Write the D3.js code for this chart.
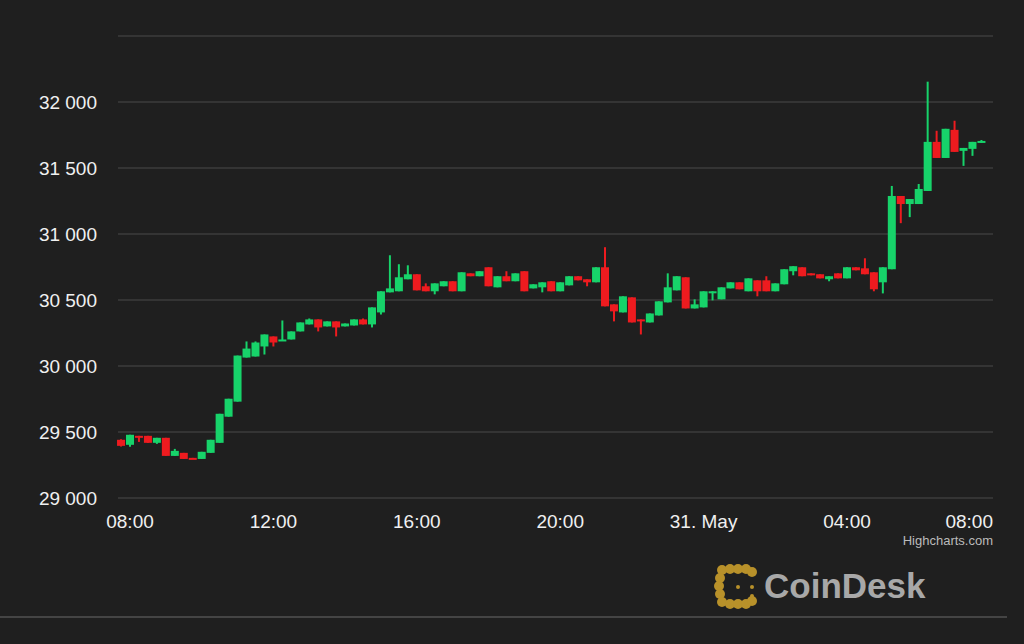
<!DOCTYPE html>
<html>
<head>
<meta charset="utf-8">
<script src="https://cdn.jsdelivr.net/npm/d3@7"></script>
<style>
  body { margin: 0; background: #1f1f1f; }
  svg { display: block; font-family: "Helvetica Neue", "Liberation Sans", Arial, sans-serif; }
</style>
</head>
<body>
<svg id="chart" width="1024" height="644"></svg>
<script>
// 15-minute BTC candles, first one at 30 May 07:45
const startTime = new Date(2021, 4, 30, 7, 45);
const opens = [29441,29403,29471,29471,29418,29456,29319,29342,29304,29296,29342,29418,29616,29730,30064,30072,30148,30224,30193,30201,30262,30315,30353,30300,30338,30300,30307,30353,30315,30406,30558,30566,30657,30695,30604,30566,30604,30642,30566,30702,30680,30748,30596,30680,30642,30718,30588,30596,30642,30566,30611,30680,30657,30634,30748,30467,30406,30520,30353,30330,30383,30482,30573,30672,30436,30444,30558,30505,30588,30634,30566,30649,30649,30566,30619,30718,30748,30702,30695,30657,30702,30664,30748,30740,30710,30634,30733,31288,31227,31227,31326,31698,31576,31789,31630,31645,31690];
const highs = [29445,29480,29471,29471,29456,29456,29372,29342,29304,29350,29441,29638,29752,30079,30186,30186,30239,30224,30345,30262,30330,30360,30353,30338,30338,30322,30353,30360,30444,30566,30839,30771,30763,30695,30626,30626,30642,30642,30710,30702,30718,30748,30680,30718,30702,30718,30619,30634,30642,30634,30680,30680,30657,30748,30900,30467,30528,30520,30353,30398,30490,30702,30680,30672,30505,30566,30566,30596,30634,30634,30664,30649,30680,30626,30733,30756,30748,30702,30695,30680,30702,30748,30748,30816,30710,30748,31364,31288,31265,31379,32154,31782,31797,31858,31652,31698,31712];
const lows = [29390,29388,29425,29418,29410,29319,29319,29296,29296,29296,29342,29418,29616,29730,30064,30072,30087,30148,30193,30201,30262,30315,30262,30300,30224,30300,30307,30315,30292,30390,30558,30566,30657,30573,30566,30543,30604,30566,30566,30680,30680,30604,30596,30642,30642,30566,30588,30558,30566,30566,30611,30649,30604,30634,30452,30338,30406,30330,30239,30330,30383,30482,30573,30436,30436,30444,30497,30505,30588,30581,30566,30528,30566,30566,30619,30687,30680,30687,30664,30642,30664,30664,30725,30695,30566,30550,30733,31082,31128,31227,31326,31576,31576,31622,31516,31592,31690];
const closes = [29395,29479,29456,29418,29456,29319,29357,29296,29296,29350,29441,29638,29752,30079,30132,30178,30239,30178,30201,30262,30330,30353,30292,30338,30292,30322,30353,30315,30444,30566,30588,30672,30695,30573,30566,30626,30642,30566,30710,30680,30718,30604,30680,30642,30702,30566,30619,30634,30566,30634,30680,30649,30634,30748,30452,30414,30528,30330,30345,30398,30490,30596,30680,30436,30467,30566,30566,30596,30634,30581,30664,30566,30566,30626,30733,30756,30680,30687,30664,30680,30664,30748,30725,30695,30581,30748,31288,31227,31265,31341,31698,31576,31797,31622,31652,31698,31705];
const yTicks = [29000, 29500, 30000, 30500, 31000, 31500, 32000, 32500];

const candles = opens.map((o, i) => ({
  t: d3.timeMinute.offset(startTime, 15 * i),
  o, h: highs[i], l: lows[i], c: closes[i]
}));

const svg = d3.select("#chart");
const left = 118, right = 993;

const x = d3.scaleTime()
  .domain([new Date(2021, 4, 30, 8), new Date(2021, 4, 31, 4)])
  .range([130, 847]);
const y = d3.scaleLinear().domain([29000, 32500]).range([498, 36]);

// grid + y labels
svg.append("g").selectAll("line").data(yTicks).join("line")
  .attr("x1", left).attr("x2", right)
  .attr("y1", d => y(d)).attr("y2", d => y(d))
  .attr("stroke", "#4a4a4a").attr("stroke-width", 1.2);

const fmt = d => d3.format(",")(d).replace(",", " ");
svg.append("g").selectAll("text").data(yTicks.slice(0, -1)).join("text")
  .attr("x", 97).attr("y", d => y(d) + 7)
  .attr("text-anchor", "end").attr("fill", "#f0f0f0").attr("font-size", 19)
  .text(fmt);

// x axis labels (last one kept inside the plot, like Highcharts does)
const xTicks = d3.timeHour.every(4).range(new Date(2021, 4, 30, 8), new Date(2021, 4, 31, 8, 1));
svg.append("g").selectAll("text").data(xTicks).join("text")
  .attr("x", (d, i) => i === xTicks.length - 1 ? right : x(d)).attr("y", 528)
  .attr("text-anchor", (d, i) => i === xTicks.length - 1 ? "end" : "middle")
  .attr("fill", "#f0f0f0").attr("font-size", 19)
  .text(d => d.getHours() === 0 ? "31. May" : d3.timeFormat("%H:%M")(d));

// candles
const bw = 8;
const green = "#17d36a", red = "#ee1b1f";
const g = svg.append("g").selectAll("g").data(candles).join("g")
  .attr("fill", d => d.c >= d.o ? green : red)
  .attr("stroke", d => d.c >= d.o ? green : red);
g.append("line")
  .attr("x1", d => x(d.t)).attr("x2", d => x(d.t))
  .attr("y1", d => y(d.h)).attr("y2", d => y(d.l))
  .attr("stroke-width", 2);
g.append("rect")
  .attr("x", d => x(d.t) - bw / 2).attr("width", bw)
  .attr("y", d => y(Math.max(d.o, d.c)))
  .attr("height", d => Math.max(2, Math.abs(y(d.o) - y(d.c))))
  .attr("stroke", "none");

// credits
svg.append("text").attr("x", 993).attr("y", 545).attr("text-anchor", "end")
  .attr("fill", "#bbb").attr("font-size", 13).text("Highcharts.com");

// CoinDesk watermark
const logo = svg.append("g").attr("fill", "#b8912a");
const dots = [[722,570],[730,569],[738,569],[746,569],[752,572],[720,578],[719,586],[720,594],[722,602],[730,604],[738,604],[746,604],[752,601]];
logo.selectAll("circle.big").data(dots).join("circle")
  .attr("cx", d => d[0]).attr("cy", d => d[1]).attr("r", 5);
logo.selectAll("circle.small").data([[738,587],[752,587],[752,596]]).join("circle")
  .attr("cx", d => d[0]).attr("cy", d => d[1]).attr("r", 2);
svg.append("text").attr("x", 764).attr("y", 598)
  .attr("fill", "#a8a8a8").attr("font-size", 35).attr("font-weight", "bold")
  .attr("font-family", "Liberation Sans, Arial, sans-serif").text("CoinDesk");
svg.append("line").attr("x1", 0).attr("x2", 1007).attr("y1", 617).attr("y2", 617)
  .attr("stroke", "#444").attr("stroke-width", 2);
</script>
</body>
</html>
